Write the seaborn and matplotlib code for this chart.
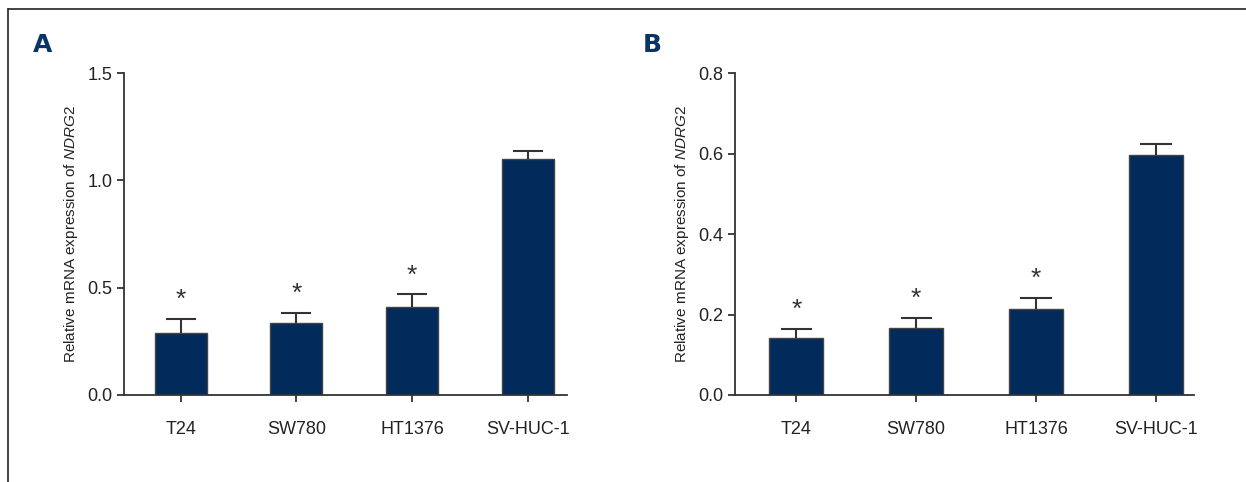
import numpy as np
import pandas as pd
import seaborn as sns
import matplotlib.pyplot as plt
from matplotlib.lines import Line2D

# Data
cell_lines = ['T24', 'SW780', 'HT1376', 'SV-HUC-1']
mrna_a = [0.287, 0.337, 0.410, 1.098]
err_a = [0.067, 0.044, 0.059, 0.040]
mrna_b = [0.141, 0.167, 0.214, 0.596]
err_b = [0.023, 0.024, 0.028, 0.027]
signif = ['*', '*', '*', '']

bar_color = '#022a5a'
axis_color = '#333333'

sns.set_style('white')
plt.rcParams['font.family'] = ['Liberation Sans', 'DejaVu Sans']
plt.rcParams['mathtext.fontset'] = 'custom'
plt.rcParams['mathtext.it'] = 'Liberation Sans:italic'
plt.rcParams['mathtext.rm'] = 'Liberation Sans'

fig = plt.figure(figsize=(12.46, 4.82), dpi=100)
ax_a = fig.add_axes([0.0995, 0.1805, 0.3555, 0.668])
ax_b = fig.add_axes([0.590, 0.1805, 0.3685, 0.668])


def draw_panel(ax, vals, errs, ymax, yticks, xlim):
    df = pd.DataFrame({'line': cell_lines, 'value': vals})
    sns.barplot(data=df, x='line', y='value', color=bar_color, width=0.45,
                edgecolor='#444444', linewidth=1.0, saturation=1, ax=ax,
                errorbar=None)
    x = np.arange(len(vals))
    tops = np.array(vals) + np.array(errs)
    # upper-only error bars
    ax.vlines(x, vals, tops, color=axis_color, lw=1.5, zorder=1)
    ax.hlines(tops, x - 0.13, x + 0.13, color=axis_color, lw=1.5, zorder=1)
    for i, (t, s) in enumerate(zip(tops, signif)):
        if s:
            ax.annotate(s, (i, t), xytext=(0, 5), textcoords='offset points',
                        ha='center', va='bottom', fontsize=19, color=axis_color)
    ax.set_ylim(0, ymax)
    ax.set_xlim(*xlim)
    ax.set_yticks(yticks)
    ax.set_yticklabels([f'{t:.1f}' for t in yticks])
    ax.set_xlabel('')
    ax.set_ylabel(r'Relative mRNA expression of $\it{NDRG2}$', fontsize=11,
                  color='#222222', labelpad=5)
    sns.despine(ax=ax)
    for sp in ['left', 'bottom']:
        ax.spines[sp].set_color(axis_color)
        ax.spines[sp].set_linewidth(1.3)
    ax.tick_params(axis='both', direction='out', length=5, width=1.3,
                   color=axis_color, labelsize=13, labelcolor='#222222',
                   left=True, bottom=True)
    ax.tick_params(axis='x', pad=14)


draw_panel(ax_a, mrna_a, err_a, 1.5, [0.0, 0.5, 1.0, 1.5], (-0.49, 3.34))
draw_panel(ax_b, mrna_b, err_b, 0.8, [0.0, 0.2, 0.4, 0.6, 0.8], (-0.51, 3.32))

fig.text(33 / 1246, 1 - 52 / 482, 'A', fontsize=18, fontweight='bold',
         color='#0a3366', family=['DejaVu Sans'])
fig.text(643 / 1246, 1 - 52 / 482, 'B', fontsize=18, fontweight='bold',
         color='#0a3366', family=['DejaVu Sans'])

# outer frame (top and left)
fig.add_artist(Line2D([8 / 1246, 1], [1 - 9 / 482, 1 - 9 / 482],
                      color='#222222', lw=1.2, transform=fig.transFigure))
fig.add_artist(Line2D([8 / 1246, 8 / 1246], [0, 1 - 9 / 482],
                      color='#222222', lw=1.2, transform=fig.transFigure))

fig.savefig('out.png', dpi=100)
